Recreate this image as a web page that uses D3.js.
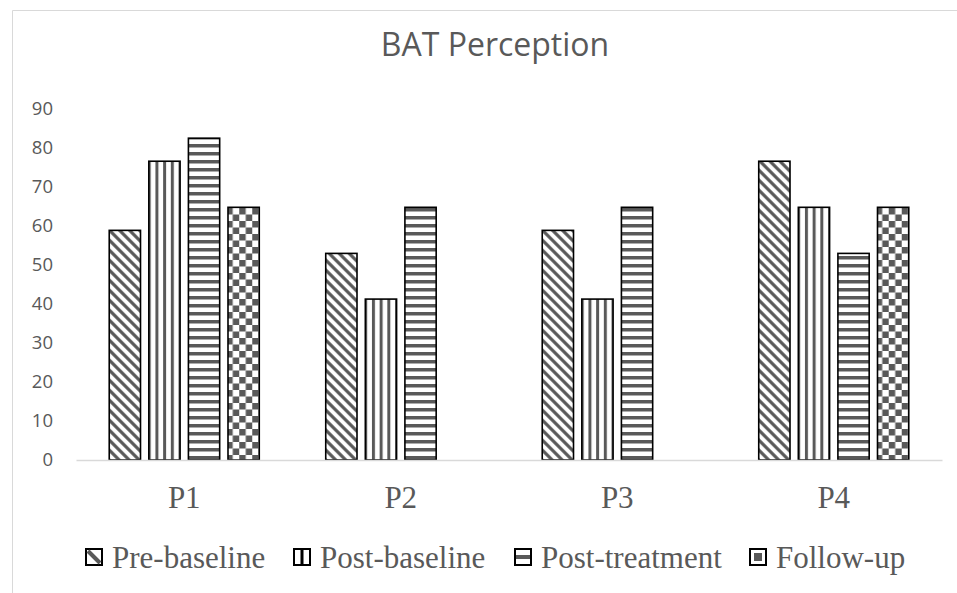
<!DOCTYPE html>
<html><head><meta charset="utf-8">
<script src="https://cdn.jsdelivr.net/npm/d3@7"></script>
<style>html,body{margin:0;padding:0;background:#fff;}svg{display:block;}</style>
</head><body>
<svg id="chart" width="957" height="593"></svg>
<script>
const title = "BAT Perception";
const categories = ["P1", "P2", "P3", "P4"];
const seriesNames = ["Pre-baseline", "Post-baseline", "Post-treatment", "Follow-up"];
const preBaseline = [58.8, 52.9, 58.8, 76.5];
const postBaseline = [76.5, 41.2, 41.2, 64.7];
const postTreatment = [82.4, 64.7, 64.7, 52.9];
const followUp = [64.7, null, null, 64.7];
const yTicks = [0, 10, 20, 30, 40, 50, 60, 70, 80, 90];

const seriesValues = [preBaseline, postBaseline, postTreatment, followUp];
const patternIds = ["pDiag", "pVert", "pHorz", "pCheck"];
const dark = "#595959";

const svg = d3.select("#chart");
const defs = svg.append("defs");

// Patterns
function mkPattern(id, w, h, draw) {
  const p = defs.append("pattern").attr("id", id).attr("patternUnits", "userSpaceOnUse")
    .attr("width", w).attr("height", h);
  p.append("rect").attr("width", w).attr("height", h).attr("fill", "#fff");
  draw(p);
}
mkPattern("pDiag", 10, 10, p => {
  p.append("path").attr("d", "M-5,5 L5,15 M0,0 L10,10 M5,-5 L15,5")
    .attr("stroke", dark).attr("stroke-width", 3.2).attr("fill", "none");
});
mkPattern("pVert", 7.7, 10, p => {
  p.append("rect").attr("x", 0).attr("y", 0).attr("width", 3).attr("height", 10).attr("fill", dark);
});
mkPattern("pHorz", 10, 8, p => {
  p.append("rect").attr("x", 0).attr("y", 0).attr("width", 10).attr("height", 3.5).attr("fill", dark);
});
mkPattern("pCheck", 13, 13, p => {
  p.append("rect").attr("x", 0).attr("y", 0).attr("width", 6.5).attr("height", 6.5).attr("fill", dark);
  p.append("rect").attr("x", 6.5).attr("y", 6.5).attr("width", 6.5).attr("height", 6.5).attr("fill", dark);
});

// Chart border
svg.append("path").attr("d", "M12.5,600 L12.5,10.5 L960,10.5")
  .attr("fill", "none").attr("stroke", "#d9d9d9").attr("stroke-width", 1);

// Title
svg.append("text").attr("x", 495).attr("y", 56).attr("text-anchor", "middle")
  .attr("font-family", "'Open Sans', sans-serif").attr("font-size", 32).attr("fill", dark)
  .text(title);

// Scales
const x0 = d3.scaleBand().domain(categories).range([76, 942]).paddingInner(0.307).paddingOuter(0.1535);
const x1 = d3.scaleBand().domain(seriesNames).range([0, x0.bandwidth()]).paddingInner(0.21).paddingOuter(0);
const y = d3.scaleLinear().domain([0, 90]).range([460, 108.5]);

// Y axis labels
const yAxis = d3.axisLeft(y).tickValues(yTicks).tickSize(0).tickPadding(0).tickFormat(d3.format("d"));
const yg = svg.append("g").attr("transform", "translate(53,0)").call(yAxis);
yg.select(".domain").remove();
yg.selectAll("text").attr("font-family", "'Open Sans', sans-serif").attr("font-size", 18.5).attr("fill", dark);

// Bars
categories.forEach((c, ci) => {
  const g = svg.append("g").attr("transform", `translate(${x0(c)},0)`);
  seriesNames.forEach((s, si) => {
    const v = seriesValues[si][ci];
    if (v == null) return;
    g.append("rect")
      .attr("x", x1(s)).attr("y", y(v))
      .attr("width", x1.bandwidth()).attr("height", y(0) - y(v))
      .attr("fill", `url(#${patternIds[si]})`)
      .attr("stroke", "#000").attr("stroke-width", 1.6);
  });
});

// X axis
const xAxis = d3.axisBottom(x0).tickSize(0).tickPadding(0);
const xg = svg.append("g").attr("transform", "translate(0,460)").call(xAxis);
xg.select(".domain").attr("stroke", "#d9d9d9").attr("stroke-width", 1.5);
xg.selectAll("text").attr("font-family", "'Liberation Serif', 'Times New Roman', serif")
  .attr("font-size", 31).attr("fill", dark).attr("dy", null).attr("y", 48);

// Legend
const legendX = [86, 294, 515, 750];
const legend = svg.append("g");
seriesNames.forEach((s, i) => {
  const g = legend.append("g").attr("transform", `translate(${legendX[i]},549)`);
  g.append("rect").attr("x", 0).attr("y", 0).attr("width", 16).attr("height", 16)
    .attr("fill", "#fff").attr("stroke", "#000").attr("stroke-width", 2);
  if (i === 0) {
    g.append("path").attr("d", "M2,2 L14,14").attr("stroke", dark).attr("stroke-width", 4);
  } else if (i === 1) {
    g.append("rect").attr("x", 6.5).attr("y", 1).attr("width", 3).attr("height", 14).attr("fill", "#000");
  } else if (i === 2) {
    g.append("rect").attr("x", 1).attr("y", 6).attr("width", 14).attr("height", 4).attr("fill", dark);
  } else {
    g.append("rect").attr("x", 4).attr("y", 4).attr("width", 8).attr("height", 8).attr("fill", dark);
  }
  g.append("text").attr("x", 26).attr("y", 19)
    .attr("font-family", "'Liberation Serif', 'Times New Roman', serif")
    .attr("font-size", 31).attr("fill", dark).text(s);
});
</script>
</body></html>
